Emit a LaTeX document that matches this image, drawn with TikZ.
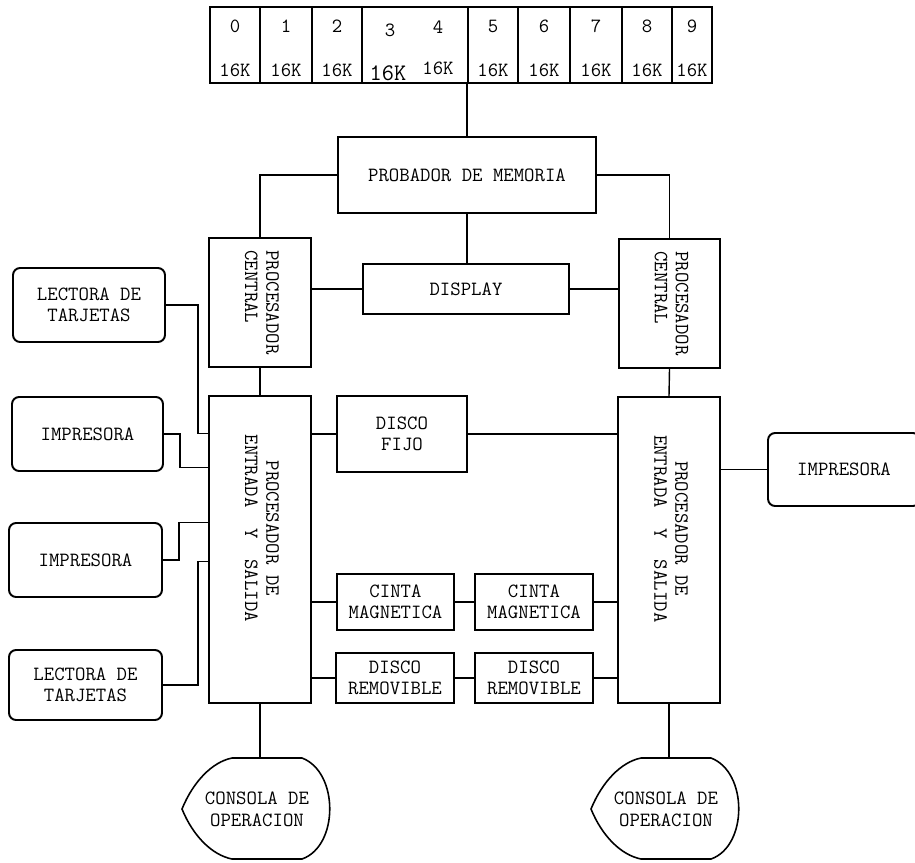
\documentclass[tikz,border=0pt]{standalone}
\usepackage{fontspec}
\usepackage{graphicx}
\usepackage{tikz}
\tikzstyle{mybox} = [draw=black, line width=1.1pt, rectangle, inner sep=1pt,
    align=center, font=\fontsize{11.5}{12}\ttfamily]
\tikzstyle{mydevice} = [mybox, rounded corners=4pt]
\tikzstyle{mycell} = [draw=black, line width=1pt, rectangle, inner sep=0pt,
    minimum height=1.52cm]
\tikzstyle{mytext} = [inner sep=0pt, align=center, font=\fontsize{11.5}{12.5}\ttfamily]
\tikzstyle{myline} = [line width=0.8pt]
\newcommand{\consola}[1]{%
  \draw[line width=0.9pt] ([shift={(-75,0)}]#1.center)
    .. controls ([shift={(-64,-27)}]#1.center) and ([shift={(-45,-47)}]#1.center) .. ([shift={(-25,-51)}]#1.center)
    -- ([shift={(45,-51)}]#1.center)
    .. controls ([shift={(82,-37)}]#1.center) and ([shift={(82,37)}]#1.center) .. ([shift={(45,50)}]#1.center)
    -- ([shift={(-25,50)}]#1.center)
    .. controls ([shift={(-45,46)}]#1.center) and ([shift={(-64,27)}]#1.center) .. cycle;}

\begin{document}
\begin{tikzpicture}[x=0.02cm, y=-0.02cm]
    \useasboundingbox (0,0) rectangle (915,862);

    % memory bank
    \foreach \l/\r/\n in {210/260/0, 260/312/1, 312/362/2, 468/518/5,
                          518/570/6, 570/622/7, 622/672/8, 672/712/9} {
        \pgfmathsetmacro\w{(\r-\l)*0.02}
        \node[mycell, minimum width=\w cm] (m\n) at ({(\l+\r)/2}, 45) {};
        \node[mytext] (d\n) at ([yshift=-0.4cm]m\n.north) {\n};
        \node[mytext] (k\n) at ([yshift=0.27cm]m\n.south) {16K};
    }
    \node[mycell, minimum width=2.12cm] (m34) at (415,45) {};
    \node[mytext] (d3) at (390,30) {3};
    \node[mytext] (d4) at (438,27) {4};
    \node[mytext, font=\fontsize{13.5}{14}\ttfamily] (k3) at (388,73) {16K};
    \node[mytext] (k4) at (438,68) {16K};

    % central blocks
    \node[mybox, minimum width=5.16cm, minimum height=1.52cm] (prob) at (467,175) {PROBADOR DE MEMORIA};
    \node[mybox, minimum width=4.12cm, minimum height=1cm] (disp) at (466,289) {DISPLAY};
    \node[mybox, minimum width=2.04cm, minimum height=2.58cm] (pcL) at (260,302.5)
        {\rotatebox{-90}{\begin{tabular}{@{}l@{}}PROCESADOR\\CENTRAL\end{tabular}}};
    \node[mybox, minimum width=2.02cm, minimum height=2.58cm] (pcR) at (669.5,303.5)
        {\rotatebox{-90}{\begin{tabular}{@{}l@{}}PROCESADOR\\CENTRAL\end{tabular}}};
    \node[mybox, minimum width=2.04cm, minimum height=6.14cm] (pesL) at (260,549.5)
        {\rotatebox{-90}{\begin{tabular}{@{}c@{\hspace{0.85cm}}}PROCESADOR DE\\ENTRADA~~Y~~SALIDA\end{tabular}}};
    \node[mybox, minimum width=2.04cm, minimum height=6.12cm] (pesR) at (669,550)
        {\rotatebox{-90}{\begin{tabular}{@{}c@{\hspace{0.85cm}}}PROCESADOR DE\\ENTRADA~~Y~~SALIDA\end{tabular}}};
    \node[mybox, minimum width=2.6cm, minimum height=1.52cm] (fijo) at (402,434) {DISCO\\FIJO};
    \node[mybox, minimum width=2.34cm, minimum height=1.12cm] (cinta1) at (395.5,602) {CINTA\\MAGNETICA};
    \node[mybox, minimum width=2.36cm, minimum height=1.12cm] (cinta2) at (534,602) {CINTA\\MAGNETICA};
    \node[mybox, minimum width=2.36cm, minimum height=1cm] (rem1) at (395,678) {DISCO\\REMOVIBLE};
    \node[mybox, minimum width=2.36cm, minimum height=1cm] (rem2) at (534,678) {DISCO\\REMOVIBLE};

    % peripherals
    \node[mydevice, minimum width=3.04cm, minimum height=1.48cm] (lect1) at (89,305) {LECTORA DE\\TARJETAS};
    \node[mydevice, minimum width=3.02cm, minimum height=1.48cm] (imp1) at (87.5,434) {IMPRESORA};
    \node[mydevice, minimum width=3.06cm, minimum height=1.48cm] (imp2) at (85.5,560) {IMPRESORA};
    \node[mydevice, minimum width=3.06cm, minimum height=1.4cm] (lect2) at (85.5,685) {LECTORA DE\\TARJETAS};
    \node[mydevice, minimum width=3.04cm, minimum height=1.46cm] (impR) at (844,469.5) {IMPRESORA};

    % consoles
    \node[mytext] (conL) at (257,809) {CONSOLA DE\\OPERACION};
    \node[mytext] (conR) at (666,809) {CONSOLA DE\\OPERACION};
    \consola{conL}
    \consola{conR}
    \coordinate (conLtop) at ([shift={(0,-51)}]conL.center);
    \coordinate (conRtop) at ([shift={(0,-51)}]conR.center);

    % connections
    \draw[myline] (m5.south west) -- (m5.south west |- prob.north);
    \draw[myline] (prob.west) -| (pcL.north);
    \draw[myline] (prob.east) -| (pcR.north);
    \draw[myline] (prob.south) -- (prob.south |- disp.north);
    \draw[myline] (disp.west) -- (pcL.east |- disp.west);
    \draw[myline] (disp.east) -- (pcR.west |- disp.east);
    \draw[myline] (pcL.south) -- (pesL.north);
    \draw[myline] (pcR.south) -- (pesR.north);
    \draw[myline] (fijo.west) -- (pesL.east |- fijo.west);
    \draw[myline] (fijo.east) -- (pesR.west |- fijo.east);
    \draw[myline] (cinta1.west) -- (pesL.east |- cinta1.west);
    \draw[myline] (cinta1.east) -- (cinta2.west);
    \draw[myline] (cinta2.east) -- (pesR.west |- cinta2.east);
    \draw[myline] (rem1.west) -- (pesL.east |- rem1.west);
    \draw[myline] (rem1.east) -- (rem2.west);
    \draw[myline] (rem2.east) -- (pesR.west |- rem2.east);
    \draw[myline] (impR.west) -- (pesR.east |- impR.west);
    \draw[myline] (lect1.east) -- ++(32,0) |- ([shift={(0,-116)}]pesL.west);
    \draw[myline] (imp1.east) -- ++(16,0) |- ([shift={(0,-82)}]pesL.west);
    \draw[myline] (imp2.east) -- ++(16,0) |- ([shift={(0,-27)}]pesL.west);
    \draw[myline] (lect2.east) -- ++(35,0) |- ([shift={(0,12)}]pesL.west);
    \draw[myline] (pesL.south) -- (pesL.south |- conLtop);
    \draw[myline] (pesR.south) -- (pesR.south |- conRtop);
\end{tikzpicture}
\end{document}
